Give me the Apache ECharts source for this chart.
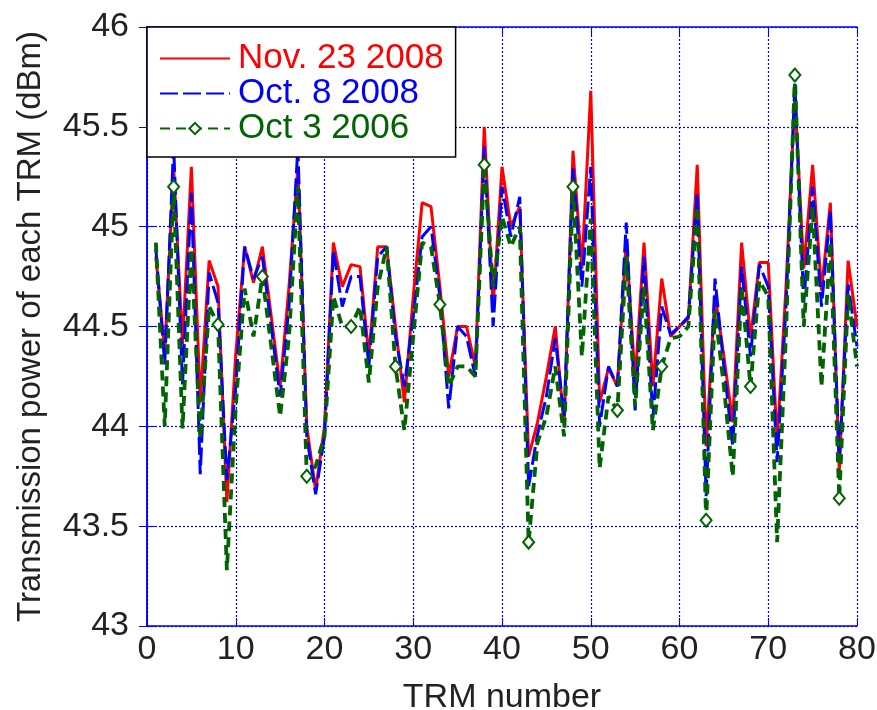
<!DOCTYPE html>
<html>
<head>
<meta charset="utf-8">
<script src="https://cdn.jsdelivr.net/npm/echarts@6/dist/echarts.min.js"></script>
<style>
  html, body { margin: 0; padding: 0; background: #fff; }
  #chart { width: 877px; height: 710px; }
</style>
</head>
<body>
<div id="chart"></div>
<script>
// TRM index
const trm = [1, 2, 3, 4, 5, 6, 7, 8, 9, 10, 11, 12, 13, 14, 15, 16, 17, 18, 19, 20,
  21, 22, 23, 24, 25, 26, 27, 28, 29, 30, 31, 32, 33, 34, 35, 36, 37, 38, 39, 40,
  41, 42, 43, 44, 45, 46, 47, 48, 49, 50, 51, 52, 53, 54, 55, 56, 57, 58, 59, 60,
  61, 62, 63, 64, 65, 66, 67, 68, 69, 70, 71, 72, 73, 74, 75, 76, 77, 78, 79, 80]

// Nov. 23 2008
const nov2008 = [44.85, 44.37, 45.30, 44.41, 45.30, 44.12, 44.83, 44.70, 43.62, 44.36,
  44.90, 44.72, 44.90, 44.55, 44.20, 44.70, 45.30, 44.00, 43.68, 44.00,
  44.92, 44.70, 44.81, 44.80, 44.35, 44.90, 44.90, 44.50, 44.12, 44.65,
  45.12, 45.10, 44.70, 44.25, 44.50, 44.50, 44.30, 45.50, 44.60, 45.30,
  45.00, 45.10, 43.85, 44.02, 44.25, 44.50, 44.00, 45.38, 44.79, 45.68,
  44.12, 44.29, 44.20, 44.93, 44.23, 44.92, 44.20, 44.74, 44.45, 44.50,
  44.54, 45.31, 43.90, 44.66, 44.35, 44.02, 44.92, 44.44, 44.82, 44.82,
  43.92, 44.70, 45.65, 44.79, 45.31, 44.68, 45.12, 43.77, 44.83, 44.50]

// Oct. 8 2008
const oct2008 = [44.89, 44.31, 45.41, 44.21, 45.17, 43.76, 44.77, 44.62, 43.73, 44.20,
  44.90, 44.74, 44.85, 44.50, 44.15, 44.60, 45.40, 43.95, 43.66, 43.95,
  44.88, 44.60, 44.75, 44.75, 44.30, 44.85, 44.90, 44.45, 44.20, 44.55,
  44.95, 45.00, 44.65, 44.09, 44.50, 44.45, 44.25, 45.40, 44.50, 45.20,
  44.95, 45.15, 43.70, 43.96, 44.15, 44.44, 44.05, 45.30, 44.70, 45.30,
  44.00, 44.30, 44.20, 45.02, 44.08, 44.85, 44.04, 44.60, 44.46, 44.50,
  44.55, 45.17, 43.65, 44.74, 44.30, 43.90, 44.80, 44.35, 44.81, 44.70,
  43.82, 44.60, 45.72, 44.62, 45.20, 44.60, 45.08, 43.82, 44.71, 44.40]

// Oct 3 2006
const oct2006 = [44.92, 44.00, 45.20, 43.99, 44.89, 43.94, 44.60, 44.51, 43.28, 44.10,
  44.69, 44.45, 44.75, 44.40, 44.05, 44.45, 45.20, 43.75, 43.80, 43.95,
  44.65, 44.50, 44.50, 44.60, 44.22, 44.70, 44.90, 44.30, 43.98, 44.45,
  44.92, 44.90, 44.61, 44.20, 44.30, 44.30, 44.25, 45.31, 44.70, 45.05,
  44.90, 45.00, 43.42, 43.92, 44.05, 44.30, 43.95, 45.20, 44.35, 45.04,
  43.79, 44.15, 44.08, 44.85, 44.10, 44.70, 43.98, 44.30, 44.44, 44.45,
  44.50, 45.10, 43.53, 44.58, 44.20, 43.75, 44.70, 44.20, 44.73, 44.65,
  43.42, 44.47, 45.76, 44.50, 45.10, 44.20, 44.92, 43.64, 44.66, 44.30]

const seriesNames = ['Nov. 23 2008', 'Oct. 8 2008', 'Oct 3 2006']
const seriesColors = ['#ff0000', '#0000ff', '#006400']

const chart = echarts.init(document.getElementById('chart'))
const font = "'Liberation Sans', Arial, sans-serif"
const axisBlue = '#0000ff'

const toPairs = (arr) => arr.map((v, i) => [trm[i], v])

var option = {
  animation: false,
  backgroundColor: '#fff',
  grid: {
    left: 147,
    right: 20,
    top: 27,
    bottom: 84,
    outerBoundsMode: 'none',
  },
  legend: {
    orient: 'vertical',
    left: 147,
    top: 27,
    itemWidth: 70,
    itemHeight: 14,
    itemGap: 0,
    padding: [14, 12, 11, 12],
    backgroundColor: '#fff',
    borderColor: '#000',
    borderWidth: 1.5,
    borderRadius: 0,
    textStyle: {
      fontSize: 35,
      fontFamily: font,
      lineHeight: 34,
      padding: [0, 0, 0, 3],
    },
    data: seriesNames.map((n, i) => ({
      name: n,
      textStyle: { color: seriesColors[i] },
      // no marker in the legend for the two 2008 curves
      itemStyle: i < 2 ? { opacity: 0 } : undefined,
    })),
  },
  xAxis: [
    {
      type: 'value',
      min: 0,
      max: 80,
      interval: 10,
      name: 'TRM number',
      nameLocation: 'middle',
      nameGap: 55,
      nameTextStyle: { fontSize: 34, fontFamily: font, color: '#222' },
      axisLine: { lineStyle: { color: axisBlue, width: 1.5 } },
      axisTick: { inside: true, length: 8, lineStyle: { color: axisBlue } },
      axisLabel: { fontSize: 34, fontFamily: font, color: '#222', margin: 7 },
      splitLine: {
        show: true,
        lineStyle: { color: axisBlue, type: [2, 2], width: 1.2 },
      },
    },
    {
      type: 'value',
      position: 'top',
      min: 0,
      max: 80,
      interval: 10,
      axisLine: { show: true, lineStyle: { color: axisBlue, width: 1.5 } },
      axisTick: { inside: true, length: 8, lineStyle: { color: axisBlue } },
      axisLabel: { show: false },
      splitLine: { show: false },
    },
  ],
  yAxis: [
    {
      type: 'value',
      min: 43,
      max: 46,
      interval: 0.5,
      name: 'Transmission power of each TRM (dBm)',
      nameLocation: 'middle',
      nameGap: 100,
      nameTextStyle: { fontSize: 33, fontFamily: font, color: '#222' },
      axisLine: { show: true, lineStyle: { color: axisBlue, width: 1.5 } },
      axisTick: { show: true, inside: true, length: 8, lineStyle: { color: axisBlue } },
      axisLabel: { fontSize: 34, fontFamily: font, color: '#222', margin: 18 },
      splitLine: {
        show: true,
        lineStyle: { color: axisBlue, type: [2, 2], width: 1.2 },
      },
    },
    {
      type: 'value',
      position: 'right',
      min: 43,
      max: 46,
      interval: 0.5,
      axisLine: { show: true, lineStyle: { color: axisBlue, width: 1.5 } },
      axisTick: { show: true, inside: true, length: 8, lineStyle: { color: axisBlue } },
      axisLabel: { show: false },
      splitLine: { show: false },
    },
  ],
  series: [
    {
      name: seriesNames[0],
      type: 'line',
      data: toPairs(nov2008),
      symbol: 'none',
      color: seriesColors[0],
      lineStyle: { width: 3, color: seriesColors[0] },
      z: 2,
    },
    {
      name: seriesNames[1],
      type: 'line',
      data: toPairs(oct2008),
      symbol: 'none',
      color: seriesColors[1],
      lineStyle: { width: 3, color: seriesColors[1], type: [18, 5] },
      z: 3,
    },
    {
      name: seriesNames[2],
      type: 'line',
      data: toPairs(oct2006),
      symbol: 'emptyDiamond',
      // diamond marker on every 5th TRM (3, 8, 13 ...)
      symbolSize: (val, params) => (params && params.dataIndex % 5 === 2 ? [11, 13] : 0),
      showAllSymbol: true,
      color: seriesColors[2],
      itemStyle: { color: seriesColors[2], borderWidth: 1.2 },
      lineStyle: { width: 3.8, color: seriesColors[2], type: [10, 6] },
      z: 4,
    },
  ],
}

chart.setOption(option)
</script>
</body>
</html>
